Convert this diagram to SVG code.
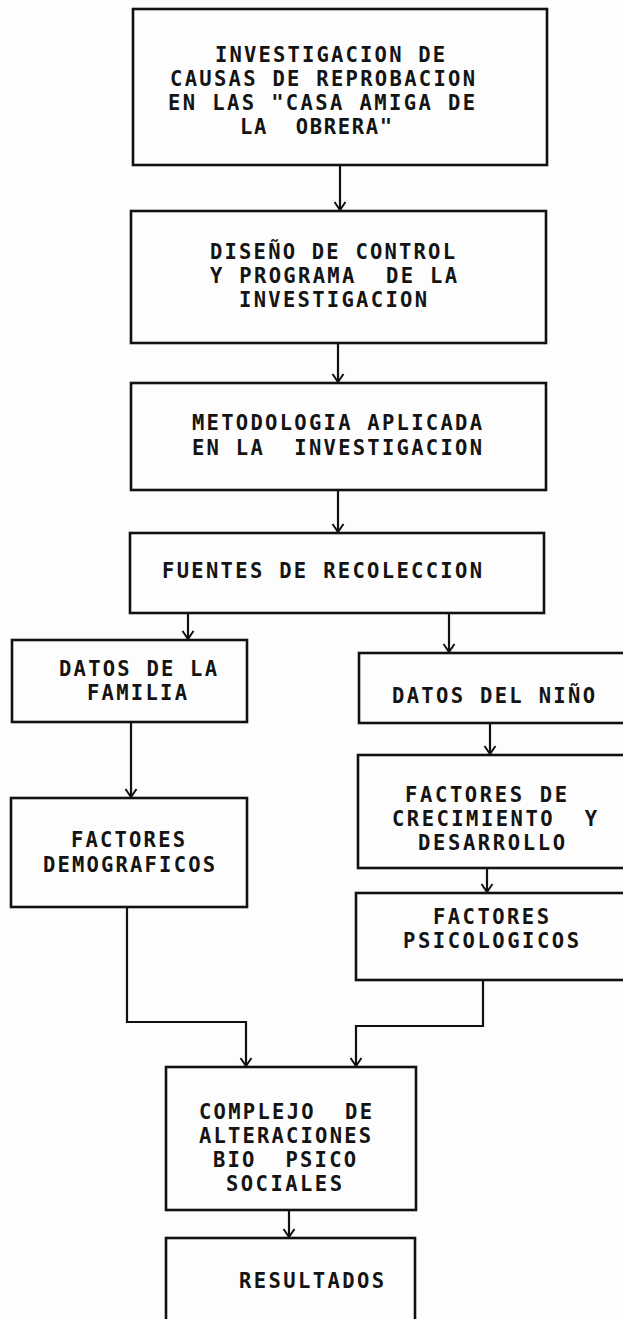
<svg xmlns="http://www.w3.org/2000/svg" width="623" height="1319" viewBox="0 0 623 1319" xml:space="preserve">
<style>
.box{fill:none;stroke:#111;stroke-width:2.6}
.t{font-family:"DejaVu Sans Mono","Liberation Mono",monospace;font-weight:bold;font-size:20.5px;fill:#141414;white-space:pre}
.c{fill:none;stroke:#111;stroke-width:2.2}
</style>
<defs>
<marker id="ah" viewBox="-10 -7 12 14" refX="0" refY="0" markerWidth="12" markerHeight="14" markerUnits="userSpaceOnUse" orient="auto">
<path d="M-8,-5.5 L0,0 L-8,5.5" fill="none" stroke="#111" stroke-width="2"/>
</marker>
</defs>
<rect width="623" height="1319" fill="#fdfdfd"/>
<g id="connectors">
<path class="c" d="M340,165 V210" marker-end="url(#ah)"/>
<path class="c" d="M338,343 V382" marker-end="url(#ah)"/>
<path class="c" d="M338,490 V532" marker-end="url(#ah)"/>
<path class="c" d="M188,613 V639" marker-end="url(#ah)"/>
<path class="c" d="M449,613 V652" marker-end="url(#ah)"/>
<path class="c" d="M131,722 V797" marker-end="url(#ah)"/>
<path class="c" d="M490,723 V754" marker-end="url(#ah)"/>
<path class="c" d="M487,868 V892" marker-end="url(#ah)"/>
<path class="c" d="M127,907 V1022 H246 V1066" marker-end="url(#ah)"/>
<path class="c" d="M483,980 V1026 H356 V1066" marker-end="url(#ah)"/>
<path class="c" d="M289,1210 V1237" marker-end="url(#ah)"/>
</g>
<g id="n1">
<rect class="box" x="133" y="9" width="414" height="156"/>
<text class="t" x="215" y="62" textLength="230" lengthAdjust="spacing">INVESTIGACION DE</text>
<text class="t" x="170" y="86" textLength="305" lengthAdjust="spacing">CAUSAS DE REPROBACION</text>
<text class="t" x="168" y="110" textLength="307" lengthAdjust="spacing">EN LAS "CASA AMIGA DE</text>
<text class="t" x="240" y="134" textLength="152" lengthAdjust="spacing">LA  OBRERA"</text>
</g>
<g id="n2">
<rect class="box" x="131" y="211" width="415" height="132"/>
<text class="t" x="210" y="259" textLength="245" lengthAdjust="spacing">DISEÑO DE CONTROL</text>
<text class="t" x="210" y="283" textLength="247" lengthAdjust="spacing">Y PROGRAMA  DE LA</text>
<text class="t" x="239" y="307" textLength="188" lengthAdjust="spacing">INVESTIGACION</text>
</g>
<g id="n3">
<rect class="box" x="131" y="383" width="415" height="107"/>
<text class="t" x="192" y="430" textLength="290" lengthAdjust="spacing">METODOLOGIA APLICADA</text>
<text class="t" x="192" y="455" textLength="290" lengthAdjust="spacing">EN LA  INVESTIGACION</text>
</g>
<g id="n4">
<rect class="box" x="130" y="533" width="414" height="80"/>
<text class="t" x="162" y="578" textLength="320" lengthAdjust="spacing">FUENTES DE RECOLECCION</text>
</g>
<g id="n5">
<rect class="box" x="12" y="640" width="235" height="82"/>
<text class="t" x="59" y="676" textLength="158" lengthAdjust="spacing">DATOS DE LA</text>
<text class="t" x="87" y="700" textLength="100" lengthAdjust="spacing">FAMILIA</text>
</g>
<g id="n6">
<rect class="box" x="11" y="798" width="236" height="109"/>
<text class="t" x="71" y="847" textLength="114" lengthAdjust="spacing">FACTORES</text>
<text class="t" x="43" y="872" textLength="172" lengthAdjust="spacing">DEMOGRAFICOS</text>
</g>
<g id="n7">
<rect class="box" x="359" y="653" width="266" height="70"/>
<text class="t" x="392" y="703" textLength="203" lengthAdjust="spacing">DATOS DEL NIÑO</text>
</g>
<g id="n8">
<rect class="box" x="358" y="755" width="267" height="113"/>
<text class="t" x="405" y="802" textLength="162" lengthAdjust="spacing">FACTORES DE</text>
<text class="t" x="392" y="826" textLength="205" lengthAdjust="spacing">CRECIMIENTO  Y</text>
<text class="t" x="418" y="850" textLength="147" lengthAdjust="spacing">DESARROLLO</text>
</g>
<g id="n9">
<rect class="box" x="356" y="893" width="269" height="87"/>
<text class="t" x="433" y="924" textLength="116" lengthAdjust="spacing">FACTORES</text>
<text class="t" x="403" y="948" textLength="176" lengthAdjust="spacing">PSICOLOGICOS</text>
</g>
<g id="n10">
<rect class="box" x="166" y="1067" width="250" height="143"/>
<text class="t" x="199" y="1119" textLength="173" lengthAdjust="spacing">COMPLEJO  DE</text>
<text class="t" x="199" y="1143" textLength="172" lengthAdjust="spacing">ALTERACIONES</text>
<text class="t" x="213" y="1167" textLength="143" lengthAdjust="spacing">BIO  PSICO</text>
<text class="t" x="226" y="1191" textLength="116" lengthAdjust="spacing">SOCIALES</text>
</g>
<g id="n11">
<rect class="box" x="166" y="1238" width="249" height="90"/>
<text class="t" x="239" y="1288" textLength="145" lengthAdjust="spacing">RESULTADOS</text>
</g>
</svg>
